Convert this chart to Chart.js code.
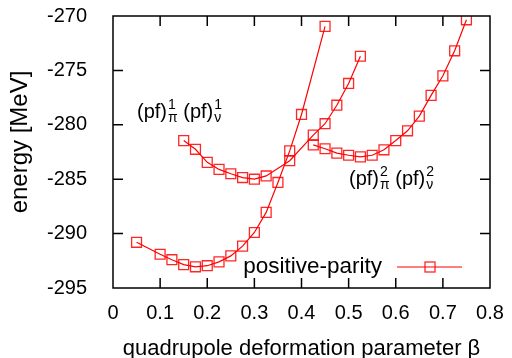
<!DOCTYPE html>
<html>
<head>
<meta charset="utf-8">
<script src="https://cdn.jsdelivr.net/npm/chart.js@4/dist/chart.umd.min.js"></script>
<style>
  html, body { margin: 0; padding: 0; background: #fff; }
</style>
</head>
<body>
<canvas id="graph" width="512" height="358"></canvas>
<script>
// positive-parity lowest curve
const betaPos = [0.05, 0.1, 0.125, 0.15, 0.175, 0.2, 0.225, 0.25, 0.275, 0.3, 0.325, 0.35, 0.375, 0.4, 0.45];
const energyPos = [-290.8, -291.9, -292.4, -292.85, -293.05, -292.95, -292.6, -292.05, -291.15, -289.9, -288.05, -285.3, -282.4, -279.05, -270.95];

// (pf)^1 (pf)^1 configuration
const betaPf1 = [0.15, 0.175, 0.2, 0.225, 0.25, 0.275, 0.3, 0.325, 0.375, 0.425, 0.45, 0.475, 0.5, 0.525];
const energyPf1 = [-281.45, -282.25, -283.45, -284.1, -284.5, -284.85, -285.0, -284.7, -283.3, -280.95, -279.9, -278.2, -276.2, -273.7];

// (pf)^2 (pf)^2 configuration
const betaPf2 = [0.425, 0.45, 0.475, 0.5, 0.525, 0.55, 0.575, 0.6, 0.625, 0.65, 0.675, 0.7, 0.725, 0.75];
const energyPf2 = [-281.85, -282.2, -282.6, -282.8, -282.95, -282.8, -282.3, -281.45, -280.55, -279.2, -277.3, -275.5, -273.2, -270.35];

const xTicks = [0, 0.1, 0.2, 0.3, 0.4, 0.5, 0.6, 0.7, 0.8];
const yTicks = [-295, -290, -285, -280, -275, -270];

const FONT = '"Liberation Sans", Arial, Helvetica, sans-serif';
const RED = '#ff0000';

function toPoints(xs, ys) {
  return xs.map((x, i) => ({ x: x, y: ys[i] }));
}

function series(label, xs, ys) {
  return {
    label: label,
    data: toPoints(xs, ys),
    borderColor: RED,
    borderWidth: 1.2,
    backgroundColor: 'transparent',
    pointStyle: 'rect',
    pointRadius: 7,
    pointBorderWidth: 1.3,
    pointBorderColor: 'rgba(255,0,0,0.85)',
    pointBackgroundColor: 'transparent',
    tension: 0,
    fill: false
  };
}

// draws frame, inward ticks on all sides, y title, labels and legend
const decorations = {
  id: 'decorations',
  afterDraw(chart) {
    const { ctx, chartArea: a, scales: { x, y } } = chart;
    ctx.save();
    ctx.strokeStyle = '#000';
    ctx.lineWidth = 1.5;
    ctx.strokeRect(a.left, a.top, a.right - a.left, a.bottom - a.top);
    ctx.beginPath();
    xTicks.slice(1, -1).forEach(v => {
      const px = x.getPixelForValue(v);
      ctx.moveTo(px, a.bottom); ctx.lineTo(px, a.bottom - 10);
      ctx.moveTo(px, a.top); ctx.lineTo(px, a.top + 10);
    });
    yTicks.slice(1, -1).forEach(v => {
      const py = y.getPixelForValue(v);
      ctx.moveTo(a.left, py); ctx.lineTo(a.left + 10, py);
      ctx.moveTo(a.right, py); ctx.lineTo(a.right - 10, py);
    });
    ctx.stroke();

    // y axis title
    ctx.fillStyle = '#000';
    ctx.save();
    ctx.translate(20, 142);
    ctx.rotate(-Math.PI / 2);
    ctx.font = '24px ' + FONT;
    ctx.textAlign = 'center';
    ctx.textBaseline = 'middle';
    ctx.fillText('energy [MeV]', 0, 0);
    ctx.restore();

    // configuration labels with sub/superscripts
    function confLabel(x0, base, n) {
      ctx.textAlign = 'left';
      ctx.textBaseline = 'alphabetic';
      let cx = x0;
      [['π', n], ['ν', n]].forEach((pair, i) => {
        ctx.font = '20px ' + FONT;
        const main = (i ? ' ' : '') + '(pf)';
        ctx.fillText(main, cx, base);
        cx += ctx.measureText(main).width + 1;
        ctx.font = '14px ' + FONT;
        ctx.fillText(pair[1], cx, base - 9);
        ctx.fillText(pair[0], cx, base + 4);
        cx += Math.max(ctx.measureText(pair[1]).width, ctx.measureText(pair[0]).width);
      });
    }
    confLabel(137, 118, '1');
    confLabel(349, 185, '2');

    // key
    ctx.font = '22.5px ' + FONT;
    ctx.textAlign = 'right';
    ctx.fillText('positive-parity', 382, 273);
    ctx.strokeStyle = RED;
    ctx.lineWidth = 1.2;
    ctx.beginPath();
    ctx.moveTo(397, 267); ctx.lineTo(462, 267);
    ctx.stroke();
    ctx.lineWidth = 1.3;
    ctx.strokeStyle = 'rgba(255,0,0,0.85)';
    ctx.strokeRect(425, 262, 10, 10);
    ctx.restore();
  }
};

const chart = new Chart(document.getElementById('graph').getContext('2d'), {
  type: 'line',
  data: {
    datasets: [
      series('positive-parity', betaPos, energyPos),
      series('(pf)1 (pf)1', betaPf1, energyPf1),
      series('(pf)2 (pf)2', betaPf2, energyPf2)
    ]
  },
  options: {
    responsive: false,
    animation: false,
    layout: { autoPadding: false, padding: { left: 0, top: 16, right: 22, bottom: 0 } },
    plugins: { legend: { display: false }, tooltip: { enabled: false } },
    scales: {
      x: {
        type: 'linear',
        min: 0,
        max: 0.8,
        afterBuildTicks(scale) { scale.ticks = xTicks.map(v => ({ value: v })); },
        afterFit(scale) { scale.height = 70; scale.paddingLeft = 0; scale.paddingRight = 0; },
        grid: { display: false, drawTicks: false },
        border: { display: false },
        ticks: { color: '#000', font: { family: FONT, size: 20 }, padding: 13, maxRotation: 0 },
        title: {
          display: true,
          text: 'quadrupole deformation parameter β',
          color: '#000',
          font: { family: FONT, size: 22, lineHeight: 0.8 },
          padding: 0
        }
      },
      y: {
        min: -295,
        max: -270,
        afterBuildTicks(scale) { scale.ticks = yTicks.map(v => ({ value: v })); },
        afterFit(scale) { scale.width = 113; scale.paddingTop = 0; scale.paddingBottom = 0; },
        grid: { display: false, drawTicks: false },
        border: { display: false },
        ticks: { color: '#000', font: { family: FONT, size: 20 }, padding: 26 }
      }
    }
  },
  plugins: [decorations]
});
</script>
</body>
</html>
